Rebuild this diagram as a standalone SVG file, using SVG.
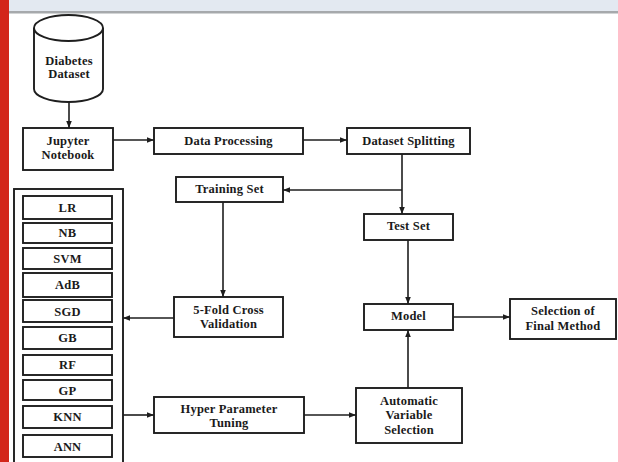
<svg xmlns="http://www.w3.org/2000/svg" width="618" height="462" viewBox="0 0 618 462">
<defs>
<style>
.box{fill:#fff;stroke:#1e1e1e;stroke-width:1.9}
.t{font-family:"Liberation Serif","Times New Roman",serif;font-weight:bold;font-size:12.5px;letter-spacing:0.2px;fill:#1a1a1a;text-anchor:middle}
.c{fill:none;stroke:#1e1e1e;stroke-width:1.6}
</style>
<marker id="ah" viewBox="0 0 10 10" refX="10" refY="5" markerWidth="7" markerHeight="7" markerUnits="userSpaceOnUse" orient="auto">
<path d="M0,1 L10,5 L0,9 Z" fill="#1e1e1e"/>
</marker>
</defs>
<rect x="0" y="0" width="618" height="462" fill="#fff"/>
<rect x="9" y="0" width="609" height="11" fill="#e3e9f1"/>
<rect x="9" y="11" width="609" height="2.5" fill="#a6a9ac"/>
<rect x="0" y="0" width="9" height="462" fill="#d3261a"/>

<g id="diabetes-dataset">
<path class="box" d="M34,28 L34,89 A34.5,13 0 0 0 103,89 L103,28"/>
<ellipse class="box" cx="68.5" cy="28" rx="34.5" ry="13"/>
<text class="t" x="69" y="65">Diabetes</text>
<text class="t" x="69" y="78">Dataset</text>
</g>
<g id="jupyter-notebook">
<rect class="box" x="23" y="128" width="90" height="42"/>
<text class="t" x="68" y="145">Jupyter</text>
<text class="t" x="68" y="159">Notebook</text>
</g>
<g id="data-processing">
<rect class="box" x="154" y="128" width="149" height="26"/>
<text class="t" x="228.5" y="145">Data Processing</text>
</g>
<g id="dataset-splitting">
<rect class="box" x="347" y="128" width="123" height="26"/>
<text class="t" x="408.5" y="145">Dataset Splitting</text>
</g>
<g id="training-set">
<rect class="box" x="176" y="177" width="107" height="25"/>
<text class="t" x="229.5" y="193">Training Set</text>
</g>
<g id="test-set">
<rect class="box" x="364" y="214" width="89" height="26"/>
<text class="t" x="408.5" y="230">Test Set</text>
</g>
<g id="cross-validation">
<rect class="box" x="174" y="297" width="109" height="40"/>
<text class="t" x="228.5" y="314">5-Fold Cross</text>
<text class="t" x="228.5" y="328">Validation</text>
</g>
<g id="model">
<rect class="box" x="364" y="304" width="89" height="26"/>
<text class="t" x="408.5" y="320">Model</text>
</g>
<g id="selection-final-method">
<rect class="box" x="510" y="299" width="106" height="40"/>
<text class="t" x="563" y="315">Selection of</text>
<text class="t" x="563" y="330">Final Method</text>
</g>
<g id="hyper-parameter-tuning">
<rect class="box" x="154" y="397" width="150" height="36"/>
<text class="t" x="229" y="413">Hyper Parameter</text>
<text class="t" x="229" y="427">Tuning</text>
</g>
<g id="automatic-variable-selection">
<rect class="box" x="356" y="388" width="106" height="55"/>
<text class="t" x="409" y="405">Automatic</text>
<text class="t" x="409" y="419">Variable</text>
<text class="t" x="409" y="434">Selection</text>
</g>
<g id="algorithms">
<rect class="box" x="14" y="189" width="109" height="276"/>
<rect class="box" x="23" y="196" width="89" height="23"/><text class="t" x="67.5" y="212">LR</text>
<rect class="box" x="23" y="223" width="89" height="20"/><text class="t" x="67.5" y="237">NB</text>
<rect class="box" x="23" y="248" width="89" height="21"/><text class="t" x="67.5" y="263">SVM</text>
<rect class="box" x="23" y="273" width="89" height="24"/><text class="t" x="67.5" y="289">AdB</text>
<rect class="box" x="23" y="300" width="89" height="22"/><text class="t" x="67.5" y="316">SGD</text>
<rect class="box" x="23" y="327" width="89" height="22"/><text class="t" x="67.5" y="342">GB</text>
<rect class="box" x="23" y="355" width="89" height="20"/><text class="t" x="67.5" y="369">RF</text>
<rect class="box" x="23" y="380" width="89" height="20"/><text class="t" x="67.5" y="395">GP</text>
<rect class="box" x="23" y="406" width="89" height="22"/><text class="t" x="67.5" y="421">KNN</text>
<rect class="box" x="23" y="435" width="89" height="22"/><text class="t" x="67.5" y="451">ANN</text>
</g>
<g id="connectors">
<path class="c" d="M69,102 L69,128" marker-end="url(#ah)"/>
<path class="c" d="M113,140 L154,140" marker-end="url(#ah)"/>
<path class="c" d="M303,140 L347,140" marker-end="url(#ah)"/>
<path class="c" d="M402,154 L402,214" marker-end="url(#ah)"/>
<path class="c" d="M402,190 L283,190" marker-end="url(#ah)"/>
<path class="c" d="M223,202 L223,297" marker-end="url(#ah)"/>
<path class="c" d="M174,318 L123,318" marker-end="url(#ah)"/>
<path class="c" d="M408,240 L408,304" marker-end="url(#ah)"/>
<path class="c" d="M453,317 L510,317" marker-end="url(#ah)"/>
<path class="c" d="M408,388 L408,330" marker-end="url(#ah)"/>
<path class="c" d="M123,415 L154,415" marker-end="url(#ah)"/>
<path class="c" d="M304,415 L356,415" marker-end="url(#ah)"/>
</g>
</svg>
